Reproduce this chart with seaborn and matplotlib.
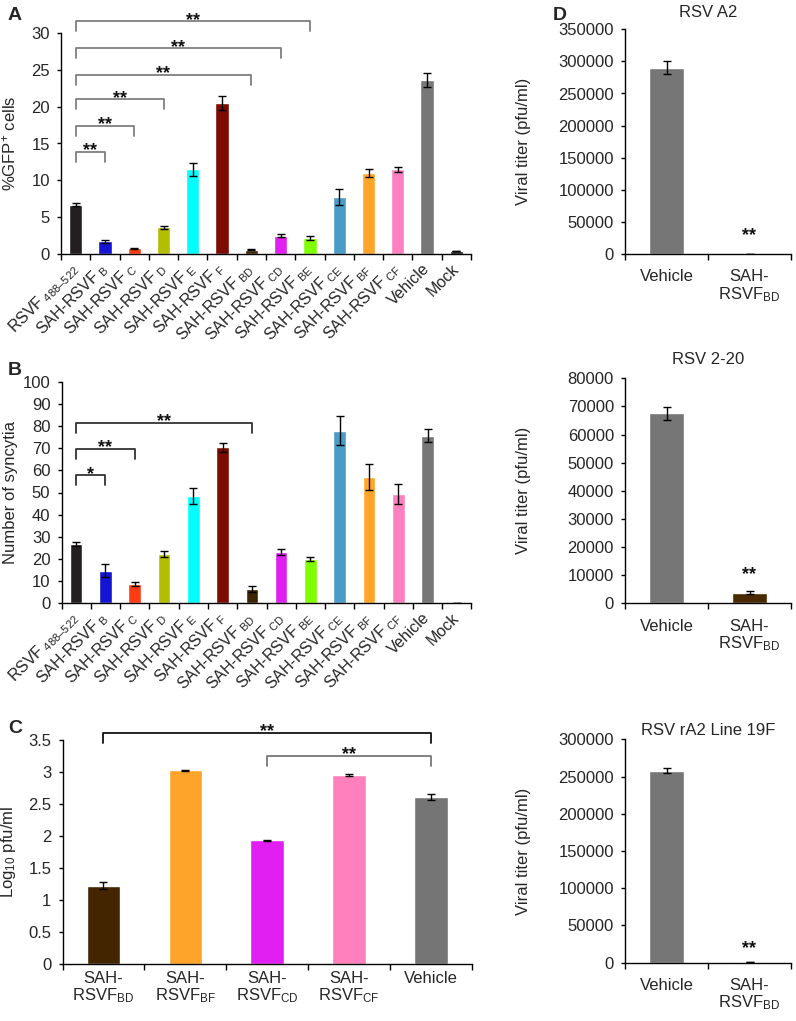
import numpy as np
import matplotlib
matplotlib.use("Agg")
import matplotlib.pyplot as plt
import seaborn as sns
from matplotlib.ticker import FuncFormatter

sns.set_theme(style="ticks")
plt.rcParams["font.family"] = ["Liberation Sans", "DejaVu Sans"]
plt.rcParams["mathtext.fontset"] = "custom"
plt.rcParams["mathtext.rm"] = "Liberation Sans"
plt.rcParams["mathtext.it"] = "Liberation Sans:italic"
plt.rcParams["mathtext.bf"] = "Liberation Sans:bold"

# ---------------- data ----------------
ab_categories = ["RSVF488-522", "B", "C", "D", "E", "F", "BD", "CD", "BE", "CE", "BF", "CF", "Vehicle", "Mock"]
ab_labels = ["RSVF$_{\\ \\mathrm{488\u2013522}}$", "SAH-RSVF$_{\\ \\mathrm{B}}$", "SAH-RSVF$_{\\ \\mathrm{C}}$",
             "SAH-RSVF$_{\\ \\mathrm{D}}$", "SAH-RSVF$_{\\ \\mathrm{E}}$", "SAH-RSVF$_{\\ \\mathrm{F}}$",
             "SAH-RSVF$_{\\ \\mathrm{BD}}$", "SAH-RSVF$_{\\ \\mathrm{CD}}$", "SAH-RSVF$_{\\ \\mathrm{BE}}$",
             "SAH-RSVF$_{\\ \\mathrm{CE}}$", "SAH-RSVF$_{\\ \\mathrm{BF}}$", "SAH-RSVF$_{\\ \\mathrm{CF}}$",
             "Vehicle", "Mock"]
ab_colors = ["#231f20", "#1414d2", "#ff3c14", "#b4be00", "#00ffff", "#7d0c00", "#3f2400",
             "#e020f0", "#80ff00", "#4a9cc8", "#ffa52a", "#ff80c0", "#777777", "#111111"]

gfp_values = [6.7, 1.7, 0.75, 3.6, 11.5, 20.5, 0.6, 2.5, 2.2, 7.7, 11.0, 11.5, 23.6, 0.4]
gfp_errors = [0.2, 0.25, 0.05, 0.25, 0.9, 0.9, 0.12, 0.15, 0.25, 1.1, 0.6, 0.35, 0.95, 0.05]

syn_values = [26.7, 14.7, 8.6, 22.1, 48.6, 70.5, 6.5, 23.0, 19.8, 78.0, 57.0, 49.3, 75.7, 0.2]
syn_errors = [0.8, 3.0, 0.9, 1.5, 3.6, 2.0, 1.3, 1.3, 0.8, 6.5, 5.8, 4.4, 3.0, 0.0]

# comparisons: (left index, right index, bracket height, label)
gfp_brackets = [(0, 1, 13.9, "**"), (0, 2, 17.4, "**"), (0, 3, 21.0, "**"),
                (0, 6, 24.3, "**"), (0, 7, 27.9, "**"), (0, 8, 31.6, "**")]
syn_brackets = [(0, 1, 57.7, "*"), (0, 2, 69.8, "**"), (0, 6, 81.5, "**")]

c_categories = ["BD", "BF", "CD", "CF", "Vehicle"]
c_labels = ["SAH-\nRSVF$_{\\mathrm{BD}}$", "SAH-\nRSVF$_{\\mathrm{BF}}$", "SAH-\nRSVF$_{\\mathrm{CD}}$",
            "SAH-\nRSVF$_{\\mathrm{CF}}$", "Vehicle"]
c_colors = ["#432500", "#ffa42a", "#e21ff2", "#ff80bc", "#757575"]
c_values = [1.224, 3.026, 1.932, 2.953, 2.61]
c_errors = [0.05, 0.01, 0.005, 0.015, 0.04]
c_brackets = [(0, 4, 3.615, "**", "#111111"), (2, 4, 3.25, "**", "#777777")]

d_categories = ["Vehicle", "SAH-RSVFBD"]
d_labels = ["Vehicle", "SAH-\nRSVF$_{\\mathrm{BD}}$"]
d_colors = ["#767676", "#4a2a00"]
d_titles = ["RSV A2", "RSV 2-20", "RSV rA2 Line 19F"]
d_values = [[290000, 0], [67500, 3800], [258000, 1500]]
d_errors = [[10000, 0], [2400, 400], [3000, 0]]
d_star_y = [26500, 10000, 18000]
d_ylims = [350000, 80000, 300000]
d_ysteps = [50000, 10000, 50000]

# ---------------- figure ----------------
W, H = 796, 1021
fig = plt.figure(figsize=(W / 100, H / 100), dpi=100)

def px_axes(x0, x1, ytop, ybot):
    return fig.add_axes([x0 / W, 1 - ybot / H, (x1 - x0) / W, (ybot - ytop) / H])

def ylabel_at(ax, text, px_right, x0, x1, size=12):
    ax.set_ylabel(text, fontsize=size)
    ax.yaxis.set_label_coords((px_right - x0) / (x1 - x0), 0.5)

TICK = 12
fmt = FuncFormatter(lambda v, p: f"{v:g}")

def style(ax, n):
    sns.despine(ax=ax)
    for s in ("left", "bottom"):
        ax.spines[s].set_color("black")
        ax.spines[s].set_linewidth(1.0)
    ax.set_xlim(-0.5, n - 0.5)
    ax.set_xticks(np.arange(-0.5, n), minor=True)
    ax.tick_params(axis="x", which="major", length=0)
    ax.tick_params(axis="x", which="minor", length=4, width=1, color="black", direction="out")
    ax.tick_params(axis="y", length=3, width=1, color="black", direction="out", labelsize=TICK, pad=5)
    ax.set_xlabel("")

def bars(ax, cats, vals, errs, colors, width):
    sns.barplot(x=cats, y=vals, hue=cats, palette=colors, order=cats, hue_order=cats,
                legend=False, ax=ax, width=width, saturation=1, errorbar=None)
    ax.errorbar(np.arange(len(cats)), vals, yerr=errs, fmt="none", ecolor="black",
                elinewidth=1, capsize=3, capthick=1)

def bracket(ax, i, j, y, drop, text, color):
    ax.plot([i, i, j, j], [y - drop, y, y, y - drop], color=color, lw=1.3, clip_on=False)
    ax.annotate(text, xy=((i + j) / 2, y), xytext=(0, -2.5), textcoords="offset points",
                ha="center", va="baseline", fontsize=13, fontweight="bold", color="#111111",
                annotation_clip=False)

# Panel A
A_X0, A_X1 = 61, 471
axA = px_axes(A_X0, A_X1, 33, 254)
bars(axA, ab_categories, gfp_values, gfp_errors, ab_colors, 0.45)
style(axA, len(ab_categories))
axA.set_ylim(0, 30)
axA.set_yticks(np.arange(0, 31, 5))
axA.set_xticks(np.arange(len(ab_categories)))
axA.set_xticklabels(ab_labels, rotation=45, ha="right", va="center", rotation_mode="anchor", fontsize=11.5)
axA.tick_params(axis="x", which="major", pad=9)
ylabel_at(axA, "%GFP$^{+}$ cells", 18, A_X0, A_X1)
for i, j, y, t in gfp_brackets:
    bracket(axA, i, j, y, 1.35, t, "#7f7f7f")

# Panel B
B_X0, B_X1 = 61.5, 471.5
axB = px_axes(B_X0, B_X1, 382, 603)
bars(axB, ab_categories, syn_values, syn_errors, ab_colors, 0.43)
style(axB, len(ab_categories))
axB.set_ylim(0, 100)
axB.set_yticks(np.arange(0, 101, 10))
axB.set_xticks(np.arange(len(ab_categories)))
axB.set_xticklabels(ab_labels, rotation=45, ha="right", va="center", rotation_mode="anchor", fontsize=11.5)
axB.tick_params(axis="x", which="major", pad=9)
ylabel_at(axB, "Number of syncytia", 18, B_X0, B_X1)
for i, j, y, t in syn_brackets:
    bracket(axB, i, j, y, 4.5, t, "#333333")

# Panel C
C_X0, C_X1 = 62.5, 472
axC = px_axes(C_X0, C_X1, 740, 964)
bars(axC, c_categories, c_values, c_errors, c_colors, 0.41)
style(axC, len(c_categories))
axC.set_ylim(0, 3.5)
axC.set_yticks(np.arange(0, 3.51, 0.5))
axC.yaxis.set_major_formatter(fmt)
axC.set_xticks(np.arange(len(c_categories)))
axC.set_xticklabels(c_labels, fontsize=12, linespacing=1.05)
axC.tick_params(axis="x", which="major", pad=5)
ylabel_at(axC, "Log$_{10}$ pfu/ml", 18, C_X0, C_X1)
for i, j, y, t, col in c_brackets:
    bracket(axC, i, j, y, 0.155, t, col)

# Panel D
D_X0, D_X1 = 625, 791
d_boxes = [(29.3, 254), (378.3, 603.3), (739.3, 962.7)]
d_pads = [9, 10, 3]
for k, (yt, yb) in enumerate(d_boxes):
    ax = px_axes(D_X0, D_X1, yt, yb)
    bars(ax, d_categories, d_values[k], d_errors[k], d_colors, 0.41)
    style(ax, 2)
    ax.set_ylim(0, d_ylims[k])
    ax.set_yticks(np.arange(0, d_ylims[k] + 1, d_ysteps[k]))
    ax.yaxis.set_major_formatter(FuncFormatter(lambda v, p: f"{int(v)}"))
    ax.set_xticks([0, 1])
    ax.set_xticklabels(d_labels, fontsize=12, linespacing=1.05)
    ax.tick_params(axis="x", which="major", pad=11)
    ax.set_title(d_titles[k], fontsize=12, pad=d_pads[k])
    ylabel_at(ax, "Viral titer (pfu/ml)", 531, D_X0, D_X1)
    ax.annotate("**", xy=(1, d_star_y[k]), xytext=(0, -2.5), textcoords="offset points",
                ha="center", va="baseline", fontsize=13, fontweight="bold", color="#111111")

# panel letters
for letter, x, y in [("A", 8, 20), ("B", 8, 375), ("C", 8, 733), ("D", 553, 20)]:
    fig.text(x / W, 1 - y / H, letter, fontsize=14, fontweight="bold", ha="left", va="baseline")

fig.savefig("out.png", dpi=100)
